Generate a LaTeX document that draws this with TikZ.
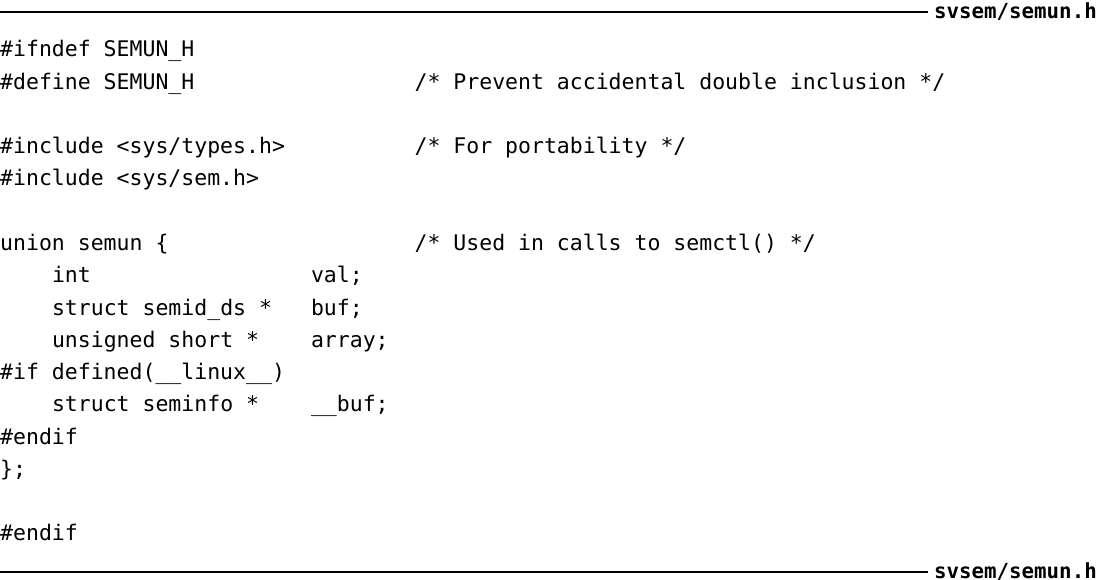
\documentclass[tikz,border=0pt]{standalone}
\usepackage{fontspec}
\setmonofont{DejaVu Sans Mono}
\begin{document}
\begin{tikzpicture}[x=1pt,y=-1pt]
\tikzset{
  code/.style={anchor=base west,inner sep=0pt,font=\ttfamily\fontsize{21.5}{24}\selectfont},
  hdr/.style={anchor=base east,inner sep=0pt,font=\ttfamily\bfseries\fontsize{20.8}{24}\selectfont},
  rulel/.style={line width=1.5pt}
}
\useasboundingbox (0,0) rectangle (1098,580);
\def\cw{12.95}
\def\lh{32.25}
\def\bl{57}
% header / footer
\node[hdr] (top) at (1097,19) {svsem/semun.h};
\coordinate (tl) at (0,12);
\coordinate (tr) at ([xshift=-6pt]top.west |- tl);
\draw[rulel] (tl) -- (tr);
\node[hdr] (bot) at (1097,578) {svsem/semun.h};
\coordinate (bl) at (0,572);
\coordinate (br) at ([xshift=-6pt]bot.west |- bl);
\draw[rulel] (bl) -- (br);
% code lines
\node[code] (l0) at (0,\bl+0*\lh) {\#ifndef SEMUN\_H};
\node[code] (l1) at (0,\bl+1*\lh) {\#define SEMUN\_H};
\node[code] (c1) at (32*\cw,\bl+1*\lh) {/* Prevent accidental double inclusion */};
\node[code] (l3) at (0,\bl+3*\lh) {\#include <sys/types.h>};
\node[code] (c3) at (32*\cw,\bl+3*\lh) {/* For portability */};
\node[code] (l4) at (0,\bl+4*\lh) {\#include <sys/sem.h>};
\node[code] (l6) at (0,\bl+6*\lh) {union semun \{};
\node[code] (c6) at (32*\cw,\bl+6*\lh) {/* Used in calls to semctl() */};
\node[code] (l7) at (4*\cw,\bl+7*\lh) {int};
\node[code] (m7) at (24*\cw,\bl+7*\lh) {val;};
\node[code] (l8) at (4*\cw,\bl+8*\lh) {struct semid\_ds *};
\node[code] (m8) at (24*\cw,\bl+8*\lh) {buf;};
\node[code] (l9) at (4*\cw,\bl+9*\lh) {unsigned short *};
\node[code] (m9) at (24*\cw,\bl+9*\lh) {array;};
\node[code] (l10) at (0,\bl+10*\lh) {\#if defined(\_\_linux\_\_)};
\node[code] (l11) at (4*\cw,\bl+11*\lh) {struct seminfo *};
\node[code] (m11) at (24*\cw,\bl+11*\lh) {\_\_buf;};
\node[code] (l12) at (0,\bl+12*\lh) {\#endif};
\node[code] (l13) at (0,\bl+13*\lh) {\};};
\node[code] (l15) at (0,\bl+15*\lh) {\#endif};
\end{tikzpicture}
\end{document}
